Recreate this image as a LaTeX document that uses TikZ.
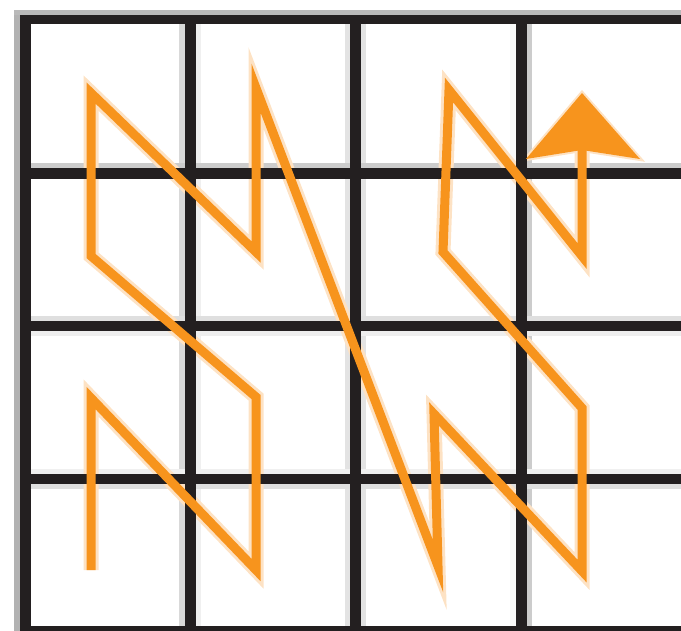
\documentclass[tikz,border=0pt]{standalone}
\definecolor{ink}{HTML}{231F20}
\definecolor{org}{HTML}{F7941D}
\definecolor{halo}{HTML}{FDE2C4}
\tikzset{
  zigline/.style={line width=9pt, draw=org, line join=miter, line cap=butt},
  zighalo/.style={line width=15pt, draw=halo, line join=miter, line cap=butt},
}
\begin{document}
\begin{tikzpicture}[x=1pt,y=-1pt]
\useasboundingbox (0,0) rectangle (681,631);
% grid shadows
\fill[gray!60] (14,10) rectangle (20,631);
\fill[gray!55] (14,10) rectangle (681,15);
\fill[gray!30] (179,24) rectangle (185,631);
\fill[gray!12] (196,24) rectangle (201,631);
\fill[gray!22] (345,24) rectangle (350,631);
\fill[gray!22] (361,24) rectangle (366,631);
\fill[gray!5]  (510,24) rectangle (516,631);
\fill[gray!40] (527,24) rectangle (532,631);
\fill[gray!40] (31,163) rectangle (681,168);
\fill[gray!25] (31,316) rectangle (681,321);
\fill[gray!13] (31,331) rectangle (681,336);
\fill[gray!12] (31,469) rectangle (681,474);
\fill[gray!25] (31,484) rectangle (681,489);
% path coordinates
\coordinate (p1) at (91,570);
\coordinate (p2) at (91,398);
\coordinate (p3) at (256,570);
\coordinate (p4) at (256,397);
\coordinate (p5) at (91,256);
\coordinate (p6) at (91,93);
\coordinate (p7) at (256,252);
\coordinate (p8) at (256,88);
\coordinate (p9) at (438,566);
\coordinate (p10) at (434,414);
\coordinate (p11) at (582,571);
\coordinate (p12) at (582,408);
\coordinate (p13) at (443,252);
\coordinate (p14) at (449,90);
\coordinate (p15) at (582,256);
\coordinate (p16) at (582,150);
\coordinate (tip) at (582,93);
\coordinate (hr) at (640,159);
\coordinate (hl) at (526,159);
% halo
\draw[zighalo] (p1) -- (p2) -- (p3) -- (p4) -- (p5) -- (p6) -- (p7) -- (p8) -- (p9) -- (p10) -- (p11) -- (p12) -- (p13) -- (p14) -- (p15) -- (p16);
\filldraw[draw=halo, fill=halo, line width=4pt, line join=miter] (tip) -- (hr) -- (p16) -- (hl) -- cycle;
% grid black
\fill[ink] (20,15) rectangle (681,24);
\fill[ink] (20,15) rectangle (31,631);
\fill[ink] (185,15) rectangle (196,631);
\fill[ink] (350,15) rectangle (361,631);
\fill[ink] (516,15) rectangle (527,631);
\fill[ink] (20,168) rectangle (681,179);
\fill[ink] (20,321) rectangle (681,331);
\fill[ink] (20,474) rectangle (681,484);
\fill[ink] (20,626) rectangle (681,631);
% orange path
\draw[zigline] (p1) -- (p2) -- (p3) -- (p4) -- (p5) -- (p6) -- (p7) -- (p8) -- (p9) -- (p10) -- (p11) -- (p12) -- (p13) -- (p14) -- (p15) -- (p16);
\fill[org] (tip) -- (hr) -- (p16) -- (hl) -- cycle;
\end{tikzpicture}
\end{document}
